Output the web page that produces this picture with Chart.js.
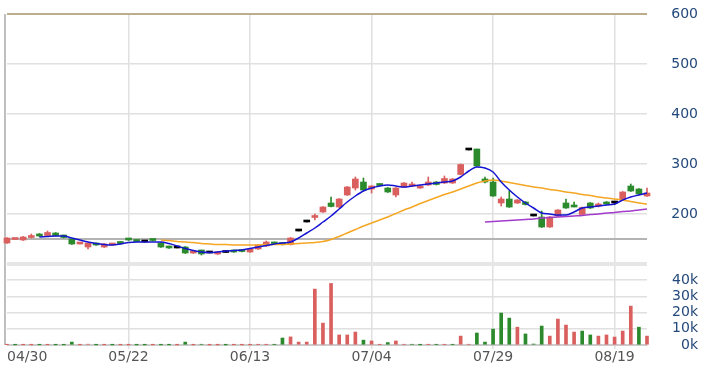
<!DOCTYPE html>
<html>
<head>
<meta charset="utf-8">
<script src="https://cdn.jsdelivr.net/npm/chart.js@4.4.1/dist/chart.umd.min.js"></script>
<style>
  html, body { margin: 0; padding: 0; background: #fff; }
  #wrap { width: 717px; height: 378px; }
</style>
</head>
<body>
<div id="wrap"><canvas id="kchart" width="717" height="378"></canvas></div>
<script>
const dates = [
  "04/30","05/02","05/03","05/06","05/07","05/08","05/09","05/10","05/13","05/14",
  "05/15","05/16","05/17","05/20","05/21","05/22","05/23","05/24","05/27","05/28",
  "05/29","05/30","05/31","06/03","06/04","06/05","06/06","06/10","06/11","06/12",
  "06/13","06/14","06/17","06/18","06/19","06/20","06/21","06/24","06/25","06/26",
  "06/27","06/28","07/01","07/02","07/03","07/04","07/05","07/08","07/11","07/12",
  "07/15","07/16","07/17","07/18","07/19","07/22","07/23","07/24","07/25","07/26",
  "07/29","07/30","07/31","08/01","08/02","08/05","08/06","08/07","08/08","08/09",
  "08/12","08/13","08/14","08/15","08/16","08/19","08/20","08/21","08/22","08/23"
];

const opens = [
  142,149,148,153,160,157,162,158,150,140,
  134,142,134,138,144,149,147,144,148,142,
  136,132,134,122,128,122,120,123,128,128,
  124,130,136,143,141,139,166,184,193,204,
  222,214,238,252,264,250,260,252,238,254,
  256,252,258,264,262,262,279,328,330,270,
  264,222,230,222,224,196,194,174,196,222,
  215,199,222,216,224,222,228,256,250,236
];
const highs = [
  153,150,155,160,161,166,163,158,150,141,
  142,142,141,139,145,151,148,144,150,143,
  136,132,135,127,128,122,125,123,128,129,
  131,139,146,144,141,153,166,184,200,215,
  234,231,255,274,272,257,260,253,253,263,
  264,257,274,265,276,271,300,328,330,274,
  272,234,246,229,225,196,206,195,209,230,
  224,214,223,222,225,225,245,260,251,252
];
const lows = [
  141,149,147,152,155,156,156,152,139,140,
  130,137,133,138,140,147,145,144,146,133,
  131,132,121,121,118,122,119,123,123,124,
  123,129,135,140,138,138,166,184,188,203,
  214,213,237,248,247,242,256,243,234,253,
  255,251,257,258,261,261,278,328,295,262,
  235,216,213,221,218,196,173,173,195,211,
  214,198,211,214,219,219,227,245,239,235
];
const closes = [
  152,150,154,157,156,163,157,153,140,141,
  142,138,140,139,141,148,145,144,147,134,
  132,132,122,126,120,122,124,123,124,125,
  130,138,144,140,139,152,166,184,195,214,
  215,230,254,270,248,256,257,244,252,262,
  260,256,264,259,271,270,299,328,296,264,
  236,230,214,228,219,196,174,194,208,212,
  214,213,212,219,220,222,244,246,240,242
];
const volumes = [
  200,100,150,100,100,150,100,100,1800,100,
  500,100,100,50,100,100,50,50,100,100,
  100,50,1800,100,400,50,100,50,100,100,
  100,300,300,300,4300,5000,1800,1800,34500,13500,
  38000,6200,6200,8000,3000,2500,300,1500,2500,400,
  400,100,300,300,300,300,5500,400,7400,1800,
  9800,19700,16600,11000,6800,600,11700,5500,16000,12300,
  8000,8600,6200,5500,6200,4900,8600,24000,11000,5500
];

// moving average lines (null = not drawn yet)
const ma5 = Array(4).fill(null).concat([
  154,155,156,156,152,148,144,141,139,138,
  140,143,144,144,144,144,141,136,131,127,
  124,123,124,126,127,128,131,134,137,140,
  142,144,152,162,172,184,196,210,224,236,
  246,252,256,258,256,254,256,258,260,262,
  264,266,274,286,294,292,284,264,248,234,
  222,212,202,200,198,198,204,212,214,216,
  218,220,228,234,238,242
]);
const ma20 = Array(19).fill(null).concat([
  148,147,145,144,143,141,140,139,139,138,
  138,138,138,139,139,139,140,141,142,143,
  145,149,155,162,169,176,182,188,194,201,
  208,214,221,227,233,239,244,250,256,262,
  266,268,266,263,260,257,254,252,249,247,
  244,242,239,237,234,232,230,228,225,222,
  220
]);
const ma60 = Array(59).fill(null).concat([
  184,185,186,187,188,189,190,192,193,194,
  195,196,197,199,200,202,203,205,206,208,210
]);

const labelEvery = 15;
const priceTicks = [100, 150, 200, 300, 400, 500, 600];
const volTicks = [0, 10000, 20000, 30000, 40000, 50000];
const refPrice = 150;

const UP = "#d9605f", DOWN = "#2b8a2b", FLAT = "#000000";
const candleColor = i => closes[i] > opens[i] ? UP : closes[i] < opens[i] ? DOWN : FLAT;
const volColor = i => (i === 0 ? closes[0] >= opens[0] : closes[i] >= closes[i - 1]) ? UP : DOWN;
const idx = dates.map((d, i) => i);

Chart.defaults.font.family = "'DejaVu Sans', Verdana, sans-serif";

const leftFrame = {
  id: "leftFrame",
  beforeDatasetsDraw(chart) {
    const { ctx, chartArea } = chart;
    ctx.save();
    ctx.strokeStyle = "#aaaaaa";
    ctx.lineWidth = 1.5;
    ctx.beginPath();
    ctx.moveTo(chartArea.left - 2, chartArea.top);
    ctx.lineTo(chartArea.left - 2, chartArea.bottom);
    ctx.stroke();
    ctx.restore();
  }
};

new Chart(document.getElementById("kchart"), {
  data: {
    labels: dates,
    datasets: [
      { type: "line", data: ma5, yAxisID: "y", borderColor: "#1414d2", borderWidth: 1.5,
        pointRadius: 0, cubicInterpolationMode: "monotone" },
      { type: "line", data: ma20, yAxisID: "y", borderColor: "#f5a623", borderWidth: 1.5,
        pointRadius: 0, cubicInterpolationMode: "monotone" },
      { type: "line", data: ma60, yAxisID: "y", borderColor: "#a23ccc", borderWidth: 1.5,
        pointRadius: 0, cubicInterpolationMode: "monotone" },
      { type: "bar", data: idx.map(i => [opens[i], closes[i]]), yAxisID: "y",
        backgroundColor: idx.map(candleColor), barThickness: 6, minBarLength: 2,
        grouped: false, borderWidth: 0, clip: 8 },
      { type: "bar", data: idx.map(i => [lows[i], highs[i]]), yAxisID: "y",
        backgroundColor: idx.map(candleColor), barThickness: 1, grouped: false,
        borderWidth: 0, clip: 8 },
      { type: "bar", data: volumes, yAxisID: "yv",
        backgroundColor: idx.map(volColor), barThickness: 3, grouped: false,
        borderWidth: 0, clip: 8 }
    ]
  },
  options: {
    responsive: false,
    animation: false,
    events: [],
    layout: { padding: { left: 7, top: 14, right: 19, bottom: 0 } },
    plugins: { legend: { display: false }, tooltip: { enabled: false } },
    scales: {
      x: {
        type: "category",
        position: "bottom",
        offset: false,
        afterFit: s => { s.height = 33; },
        ticks: {
          callback: (v, i) => i % labelEvery === 0 ? dates[i] : "",
          align: "inner",
          autoSkip: false,
          maxRotation: 0,
          color: "#555555",
          font: { size: 14 },
          padding: 0
        },
        grid: {
          offset: false,
          color: c => (c.index > 0 && c.index % labelEvery === 0) ? "#e0e0e0" : "rgba(0,0,0,0)",
          lineWidth: 1.5,
          tickLength: 4
        },
        border: { display: true, color: "#cccccc", width: 1 }
      },
      y: {
        type: "linear",
        position: "right",
        stack: "panels",
        stackWeight: 250,
        min: 100,
        max: 600,
        afterBuildTicks: s => { s.ticks = priceTicks.map(v => ({ value: v })); },
        afterFit: s => { s.width = 51; },
        ticks: {
          callback: v => (v === 100 || v === refPrice) ? "" : v,
          autoSkip: false,
          crossAlign: "far",
          padding: 0,
          color: "#23497c",
          font: { size: 14 }
        },
        grid: {
          drawTicks: false,
          color: c => {
            const v = c.tick && c.tick.value;
            if (v === 600) return "#bcae8c";
            if (v === refPrice) return "#b4b4b4";
            if (v === 100) return "#e6e6e6";
            return "#e0e0e0";
          },
          lineWidth: c => {
            const v = c.tick && c.tick.value;
            if (v === 100) return 4;
            if (v === 600 || v === refPrice) return 2;
            return 1.5;
          }
        },
        border: { display: false }
      },
      yv: {
        type: "linear",
        position: "right",
        stack: "panels",
        stackWeight: 81,
        min: 0,
        max: 50000,
        afterBuildTicks: s => { s.ticks = volTicks.map(v => ({ value: v })); },
        afterFit: s => { s.width = 51; },
        ticks: {
          callback: v => v === 50000 ? "" : (v / 1000) + "k",
          autoSkip: false,
          crossAlign: "far",
          padding: 0,
          color: "#23497c",
          font: { size: 14 }
        },
        grid: {
          drawTicks: false,
          color: c => {
            const v = c.tick && c.tick.value;
            if (v === 50000) return "rgba(0,0,0,0)";
            if (v === 0) return "#cccccc";
            return "#e0e0e0";
          },
          lineWidth: 1.5
        },
        border: { display: false }
      }
    }
  },
  plugins: [leftFrame]
});
</script>
</body>
</html>
